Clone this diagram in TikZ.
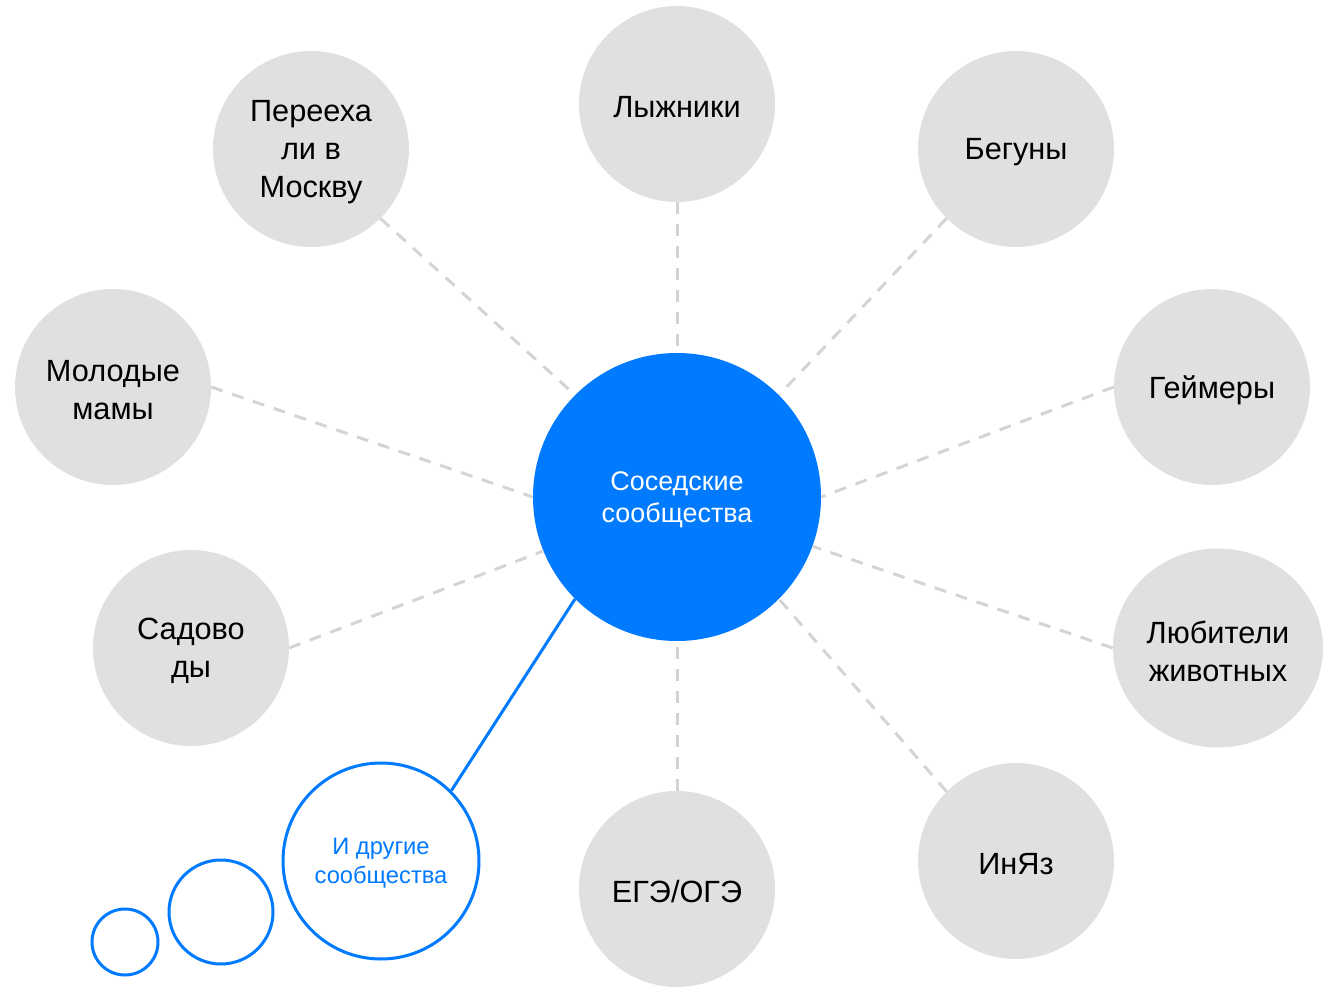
\documentclass[tikz,border=0pt]{standalone}
\usepackage{fontspec}
\setmainfont{Liberation Sans}
\usetikzlibrary{shapes.geometric}
\definecolor{cblue}{HTML}{007BFF}
\definecolor{cgray}{HTML}{E0E0E0}
\definecolor{cdash}{HTML}{D4D4D4}
\tikzset{
  graynode/.style={circle, fill=cgray, minimum size=196pt, inner sep=0pt},
  glabel/.style={align=center, font=\fontsize{30.7}{38}\selectfont, text=black, inner sep=0pt, yshift=-3pt},
  conn/.style={draw=cdash, line width=3pt, dash pattern=on 12pt off 10pt},
  blueline/.style={draw=cblue, line width=3pt},
  ring/.style={circle, draw=cblue, line width=3pt, fill=white, inner sep=0pt},
}
\begin{document}
\begin{tikzpicture}[x=1pt,y=-1pt]
\useasboundingbox (0,0) rectangle (1326,987);
% nodes
\node[circle, fill=cblue, minimum size=288pt, inner sep=0pt] (c) at (677,497) {};
\node[align=center, text=white, inner sep=0pt, yshift=-3pt,
  font=\fontsize{26.9}{32}\selectfont] (ct) at (c) {Соседские\\сообщества};
\node[graynode] (ski) at (677,104) {};
\node[glabel] (skit) at (ski) {Лыжники};
\node[graynode] (run) at (1016,149) {};
\node[glabel] (runt) at (run) {Бегуны};
\node[graynode] (mov) at (311,149) {};
\node[glabel] (movt) at (mov) {Перееха\\ли в\\Москву};
\node[graynode] (mom) at (113,387) {};
\node[glabel] (momt) at (mom) {Молодые\\мамы};
\node[graynode] (gam) at (1212,387) {};
\node[glabel] (gamt) at (gam) {Геймеры};
\node[graynode] (gar) at (191,648) {};
\node[glabel] (gart) at (gar) {Садово\\ды};
\node[graynode, ellipse, minimum width=210pt, minimum height=199pt] (pet) at (1218,648) {};
\node[glabel] (pett) at (pet) {Любители\\животных};
\node[graynode] (ege) at (677,889) {};
\node[glabel] (eget) at (ege) {ЕГЭ/ОГЭ};
\node[graynode] (lang) at (1016,861) {};
\node[glabel] (langt) at (lang) {ИнЯз};
\node[ring, minimum size=196pt] (oth) at (381,861) {};
\node[align=center, text=cblue, inner sep=0pt, yshift=-2pt, font=\fontsize{23.7}{29}\selectfont] (otht) at (oth) {И другие\\сообщества};
\node[ring, minimum size=104pt] (r2) at (221,912) {};
\node[ring, minimum size=66pt] (r1) at (125,942) {};
% connectors
\draw[conn] (ski.south) -- (c.north);
\draw[conn] (mov.-45) -- (c.135);
\draw[conn] (run.225) -- (c.45);
\draw[conn] (mom.east) -- (c.west);
\draw[conn] (gam.west) -- (c.east);
\draw[conn] (gar.east) -- (c.202);
\draw[conn] (pet.west) -- (c.-20);
\draw[conn] (ege.north) -- (c.south);
\draw[conn] (lang.135) -- (c.-45);
\draw[blueline] (c.225) -- (oth.45);
\end{tikzpicture}
\end{document}
